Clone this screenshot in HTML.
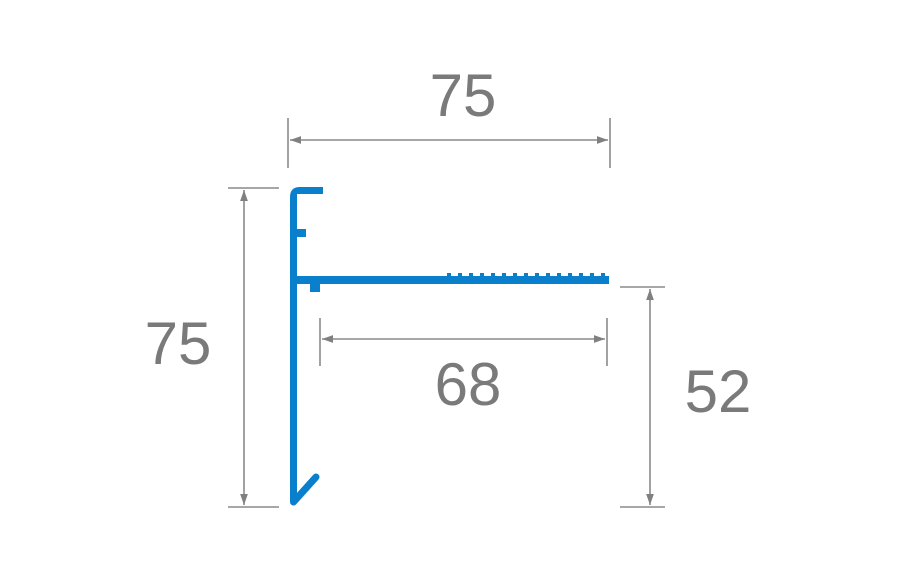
<!DOCTYPE html>
<html><head><meta charset="utf-8"><style>
html,body{margin:0;padding:0;background:#fff;width:900px;height:570px;overflow:hidden}
text{font-family:"Liberation Sans",sans-serif;fill:#7a7a7a;font-size:60px}
</style></head><body>
<svg width="900" height="570" viewBox="0 0 900 570" xmlns="http://www.w3.org/2000/svg">
<defs>
<marker id="a" viewBox="0 0 10 10" refX="10" refY="5" markerWidth="7" markerHeight="7" orient="auto-start-reverse"><path d="M0,1.5 L10,5 L0,8.5 z" fill="#808080"/></marker>
</defs>
<g stroke="#8a8a8a" stroke-width="1.6" fill="none">
<line x1="288" y1="118" x2="288" y2="168"/>
<line x1="610" y1="118" x2="610" y2="168"/>
<line x1="290" y1="140" x2="608" y2="140" marker-start="url(#a)" marker-end="url(#a)"/>
<line x1="228" y1="188" x2="279" y2="188"/>
<line x1="228" y1="507" x2="279" y2="507"/>
<line x1="244" y1="190" x2="244" y2="505" marker-start="url(#a)" marker-end="url(#a)"/>
<line x1="320" y1="318" x2="320" y2="366"/>
<line x1="607" y1="318" x2="607" y2="366"/>
<line x1="322" y1="339" x2="605" y2="339" marker-start="url(#a)" marker-end="url(#a)"/>
<line x1="620" y1="287" x2="665" y2="287"/>
<line x1="620" y1="507" x2="665" y2="507"/>
<line x1="650" y1="289" x2="650" y2="505" marker-start="url(#a)" marker-end="url(#a)"/>
</g>
<g fill="#0a80cc" stroke="none">
<path d="M323,187 L300,187 Q290,187 290,197 L290,502 L297,502 L297,194 L323,194 Z"/>
<rect x="295" y="229" width="11" height="8"/>
<rect x="290" y="276" width="319" height="8"/>
<rect x="310" y="284" width="10" height="8"/>
</g>
<g fill="#0a80cc">
<rect x="447" y="273" width="4" height="3"/><rect x="458" y="273" width="4" height="3"/><rect x="469" y="273" width="4" height="3"/><rect x="480" y="273" width="4" height="3"/><rect x="491" y="273" width="4" height="3"/><rect x="502" y="273" width="4" height="3"/><rect x="513" y="273" width="4" height="3"/><rect x="524" y="273" width="4" height="3"/><rect x="535" y="273" width="4" height="3"/><rect x="546" y="273" width="4" height="3"/><rect x="557" y="273" width="4" height="3"/><rect x="568" y="273" width="4" height="3"/><rect x="579" y="273" width="4" height="3"/><rect x="590" y="273" width="4" height="3"/><rect x="601" y="273" width="4" height="3"/>
</g>
<polyline points="293.5,440 293.5,502 316,477" fill="none" stroke="#0a80cc" stroke-width="7" stroke-linecap="round" stroke-linejoin="round"/>
<text x="463" y="116" text-anchor="middle">75</text>
<text x="178" y="364" text-anchor="middle">75</text>
<text x="468" y="405" text-anchor="middle">68</text>
<text x="718" y="412" text-anchor="middle">52</text>
</svg>
</body></html>
